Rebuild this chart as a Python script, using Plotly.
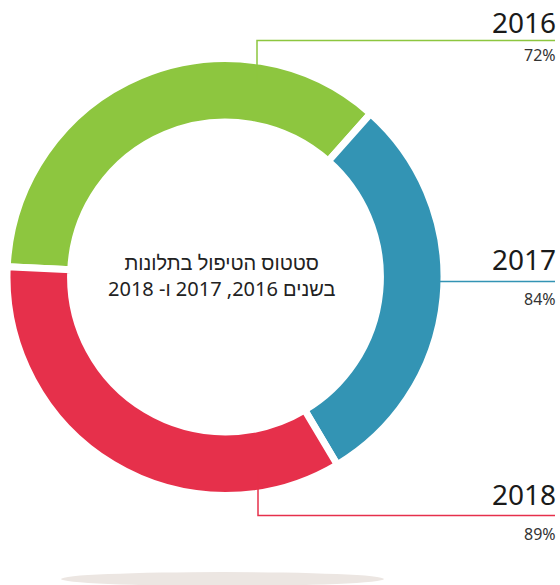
import plotly.graph_objects as go

# ---- data ----
years = ["2016", "2017", "2018"]
percent_labels = ["72%", "84%", "89%"]
# share of the ring covered by each coloured arc (in % of circle)
arc_share = [35.8, 29.9, 34.3]
colors = ["#8DC63F", "#3394B4", "#E6304B"]
center_title = ["סטטוס הטיפול בתלונות", "בשנים 2016, 2017 ו- 2018"]

W, H = 560, 585


def px(x):
    return x / W


def py(y):
    return 1 - y / H


cx, cy, R = 225.5, 277.0, 218.5

fig = go.Figure()
fig.add_trace(go.Pie(
    labels=years,
    values=arc_share,
    marker=dict(colors=colors, line=dict(color="white", width=7)),
    hole=0.709,
    sort=False,
    direction="clockwise",
    rotation=-87.3,
    textinfo="none",
    hoverinfo="label+percent",
    showlegend=False,
    domain=dict(x=[px(cx - R), px(cx + R)], y=[py(cy + R), py(cy - R)]),
))

font_fam = "Noto Sans, Liberation Sans, DejaVu Sans, sans-serif"

shapes = [
    # shadow ellipse
    dict(type="circle", xref="paper", yref="paper",
         x0=px(61), x1=px(384), y0=py(586), y1=py(572),
         fillcolor="#ECE6E2", line=dict(width=0), layer="below"),
    # 2016 leader
    dict(type="path", xref="paper", yref="paper",
         path=f"M {px(257)},{py(84)} L {px(257)},{py(40.5)} L {px(555)},{py(40.5)}",
         line=dict(color=colors[0], width=1.5)),
    # 2017 leader
    dict(type="line", xref="paper", yref="paper",
         x0=px(440), x1=px(555), y0=py(281.5), y1=py(281.5),
         line=dict(color=colors[1], width=1.5)),
    # 2018 leader
    dict(type="path", xref="paper", yref="paper",
         path=f"M {px(258)},{py(470)} L {px(258)},{py(515.5)} L {px(555)},{py(515.5)}",
         line=dict(color=colors[2], width=1.5)),
]

year_mid_y = [22, 259, 494]
pct_mid_y = [55, 299, 534]
annotations = []
for i in range(3):
    annotations.append(dict(
        x=px(558), y=py(year_mid_y[i]), xref="paper", yref="paper",
        xanchor="right", yanchor="middle", showarrow=False,
        text=years[i], font=dict(family=font_fam, size=28, color="#1a1a1a")))
    annotations.append(dict(
        x=px(558), y=py(pct_mid_y[i]), xref="paper", yref="paper",
        xanchor="right", yanchor="middle", showarrow=False,
        text=percent_labels[i], font=dict(family=font_fam, size=16, color="#333333")))

annotations.append(dict(
    x=px(221), y=py(275), xref="paper", yref="paper",
    xanchor="center", yanchor="middle", showarrow=False,
    text="<br>".join("\u202b" + t + "\u202c" for t in center_title),
    font=dict(family=font_fam, size=20, color="#222222")))

fig.update_layout(
    width=W, height=H,
    margin=dict(l=0, r=0, t=0, b=0),
    paper_bgcolor="white", plot_bgcolor="white",
    shapes=shapes, annotations=annotations,
)

fig.write_html("out.html", config={"displayModeBar": False},
               post_script="document.body.style.margin='0';")
